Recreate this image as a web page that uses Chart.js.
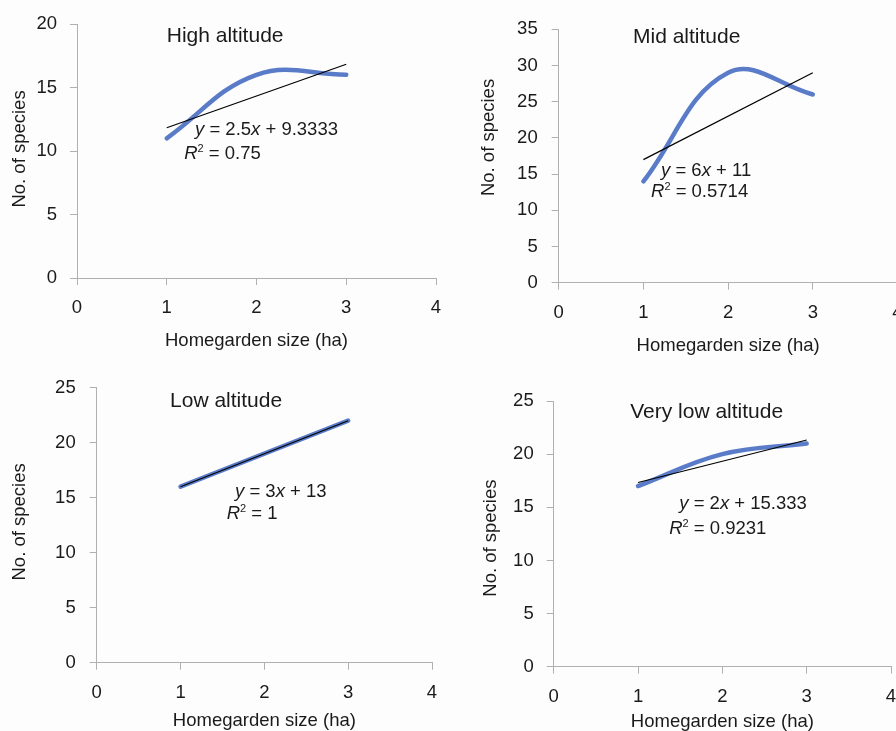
<!DOCTYPE html>
<html>
<head>
<meta charset="utf-8">
<script src="https://cdn.jsdelivr.net/npm/chart.js@4.4.0/dist/chart.umd.min.js"></script>
<style>
  html, body { margin: 0; padding: 0; background: #fdfdfd; width: 896px; height: 731px; overflow: hidden; }
  canvas { position: absolute; }
</style>
</head>
<body>
<canvas id="c1"></canvas>
<canvas id="c2"></canvas>
<canvas id="c3"></canvas>
<canvas id="c4"></canvas>
<script>
// ---- data ----
const sizeHa = [1, 2, 3];
const highSpecies = [11, 16, 16];
const midSpecies = [14, 29, 26];
const lowSpecies = [16, 19, 22];
const veryLowSpecies = [17, 20, 21];

const trendX = [1, 3];
const highTrend = [11.8333, 16.8333];
const midTrend = [17, 29];
const lowTrend = [16, 22];
const veryLowTrend = [17.333, 21.333];

const xTickValues = [0, 1, 2, 3, 4];
const yMaxes = [20, 35, 25, 25];
const panelTitles = ['High altitude', 'Mid altitude', 'Low altitude', 'Very low altitude'];
const equations = ['y = 2.5x + 9.3333', 'y = 6x + 11', 'y = 3x + 13', 'y = 2x + 15.333'];
const r2Values = ['0.75', '0.5714', '1', '0.9231'];
const xAxisTitle = 'Homegarden size (ha)';
const yAxisTitle = 'No. of species';

// ---- layout / style (not data) ----
const FONT = '"Liberation Sans", Arial, sans-serif';
const BLUE = '#5a7cc8';
const AXIS = '#b0b0b0';
const TEXT = '#1a1a1a';

const panels = [
  { id: 'c1', series: highSpecies, trend: highTrend, left: 0, top: 0, w: 446, h: 357,
    yW: 77, xH: 79, padTop: 24, padRight: 10, xTitlePad: 5, yTickPad: 13,
    yTitleX: 19.5, yTitleAt: 10.16,
    titlePos: [1.0, 19], eqPos: [1.315, 11.65], r2Pos: [1.195, 9.76] },
  { id: 'c2', series: midSpecies, trend: midTrend, left: 446, top: 0, w: 460, h: 362,
    yW: 112.7, xH: 79.3, padTop: 29.3, padRight: 8.5, xTitlePad: 5, yTickPad: 14,
    yTitleX: 42.5, yTitleAt: 20.06,
    titlePos: [0.877, 33.9], eqPos: [1.208, 15.43], r2Pos: [1.09, 12.49] },
  { id: 'c3', series: lowSpecies, trend: lowTrend, left: 0, top: 362, w: 446, h: 380,
    yW: 96.7, xH: 79.3, padTop: 25.7, padRight: 14, xTitlePad: 9.5, yTickPad: 14,
    yTitleX: 19.5, yTitleAt: 12.8,
    titlePos: [0.875, 23.8], eqPos: [1.65, 15.55], r2Pos: [1.55, 13.5] },
  { id: 'c4', series: veryLowSpecies, trend: veryLowTrend, left: 446, top: 362, w: 460, h: 380,
    yW: 107.7, xH: 75.3, padTop: 39, padRight: 15, xTitlePad: 9.2, yTickPad: 13,
    yTitleX: 45, yTitleAt: 12.1,
    titlePos: [0.907, 23.96], eqPos: [1.489, 15.3], r2Pos: [1.37, 12.93] }
];

function drawRich(ctx, x, y, segs, size) {
  let cx = x;
  ctx.textBaseline = 'middle';
  ctx.textAlign = 'left';
  for (const s of segs) {
    const fs = s.sup ? Math.round(size * 0.6) : size;
    ctx.font = (s.italic ? 'italic ' : '') + fs + 'px ' + FONT;
    const dy = s.sup ? -size * 0.3 : 0;
    ctx.fillText(s.t, cx, y + dy);
    cx += ctx.measureText(s.t).width;
  }
}

function eqSegments(str) {
  const segs = [];
  for (const ch of str) {
    const it = (ch === 'x' || ch === 'y');
    const last = segs[segs.length - 1];
    if (last && last.italic === it) last.t += ch; else segs.push({ t: ch, italic: it });
  }
  return segs;
}

const annotationPlugin = {
  id: 'annot',
  afterDatasetsDraw(chart, args, opts) {
    const ctx = chart.ctx;
    const xs = chart.scales.x, ys = chart.scales.y;
    ctx.save();
    ctx.fillStyle = TEXT;
    ctx.font = '21px ' + FONT;
    ctx.textBaseline = 'middle';
    ctx.textAlign = 'left';
    ctx.fillText(opts.title, xs.getPixelForValue(opts.titlePos[0]), ys.getPixelForValue(opts.titlePos[1]));
    drawRich(ctx, xs.getPixelForValue(opts.eqPos[0]), ys.getPixelForValue(opts.eqPos[1]), eqSegments(opts.eq), 18.5);
    drawRich(ctx, xs.getPixelForValue(opts.r2Pos[0]), ys.getPixelForValue(opts.r2Pos[1]),
      [{ t: 'R', italic: true }, { t: '2', sup: true }, { t: ' = ' + opts.r2 }], 18.5);
    // y-axis title (rotated)
    ctx.translate(opts.yTitleX, ys.getPixelForValue(opts.yTitleAt));
    ctx.rotate(-Math.PI / 2);
    ctx.font = '18.5px ' + FONT;
    ctx.textAlign = 'center';
    ctx.textBaseline = 'middle';
    ctx.fillText(yAxisTitle, 0, 0);
    ctx.restore();
  }
};

panels.forEach((p, i) => {
  const cv = document.getElementById(p.id);
  cv.style.left = p.left + 'px';
  cv.style.top = p.top + 'px';
  cv.width = p.w; cv.height = p.h;
  cv.style.width = p.w + 'px'; cv.style.height = p.h + 'px';

  new Chart(cv, {
    type: 'line',
    data: {
      datasets: [
        { label: 'trend', data: trendX.map((x, k) => ({ x: x, y: p.trend[k] })),
          borderColor: '#000000', borderWidth: 1.2, tension: 0, pointRadius: 0, order: 0, fill: false },
        { label: 'species', data: sizeHa.map((x, k) => ({ x: x, y: p.series[k] })),
          borderColor: BLUE, borderWidth: 4.5, tension: 0.4, pointRadius: 0, order: 1, fill: false,
          borderCapStyle: 'round' }
      ]
    },
    options: {
      responsive: false,
      animation: false,
      devicePixelRatio: 1,
      layout: { autoPadding: false, padding: { top: p.padTop, right: p.padRight, left: 0, bottom: 0 } },
      plugins: {
        legend: { display: false },
        tooltip: { enabled: false },
        annot: { title: panelTitles[i], eq: equations[i], r2: r2Values[i],
          titlePos: p.titlePos, eqPos: p.eqPos, r2Pos: p.r2Pos, yTitleX: p.yTitleX, yTitleAt: p.yTitleAt }
      },
      scales: {
        x: {
          type: 'linear', min: 0, max: 4,
          afterBuildTicks: (s) => { s.ticks = xTickValues.map(v => ({ value: v })); },
          afterFit: (s) => { s.height = p.xH; s.paddingLeft = 0; s.paddingRight = 0; },
          grid: { drawOnChartArea: false, color: AXIS, tickLength: 7 },
          border: { color: AXIS, width: 1 },
          ticks: { font: { family: FONT, size: 18.5 }, color: TEXT, padding: 12, maxRotation: 0 },
          title: { display: true, text: xAxisTitle, color: TEXT, font: { family: FONT, size: 18.5 },
            padding: { top: 0, bottom: p.xTitlePad } }
        },
        y: {
          type: 'linear', min: 0, max: yMaxes[i],
          ticks: { stepSize: 5, font: { family: FONT, size: 18.5 }, color: TEXT, padding: p.yTickPad },
          afterFit: (s) => { s.width = p.yW; s.paddingTop = 0; s.paddingBottom = 0; },
          grid: { drawOnChartArea: false, color: AXIS, tickLength: 7 },
          border: { color: AXIS, width: 1 },
          title: { display: false }
        }
      }
    },
    plugins: [annotationPlugin]
  });
});
</script>
</body>
</html>
